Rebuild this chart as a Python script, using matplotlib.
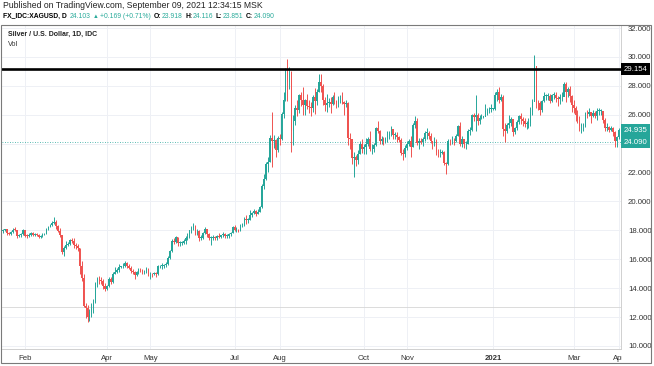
import matplotlib
matplotlib.use('Agg')
import matplotlib.pyplot as plt
import matplotlib.transforms as mtransforms
from matplotlib.patches import Rectangle
import numpy as np

plt.rcParams['font.family'] = ['Liberation Sans', 'DejaVu Sans']

# ---------------- data: daily bars (close, high, low), XAGUSD ----------------
first_open = 17.95
jan_2020 = [(18.02, 18.10, 17.82), (18.08, 18.12, 17.95), (17.80, 18.10, 17.70), (17.75, 17.86, 17.68),
            (17.88, 17.95, 17.65), (18.05, 18.15, 17.85), (18.03, 18.25, 17.95), (17.60, 18.05, 17.50),
            (17.65, 17.75, 17.52), (17.75, 17.85, 17.55), (18.00, 18.10, 17.70)]
feb_2020 = [(17.62, 17.95, 17.55), (17.60, 17.72, 17.45), (17.70, 17.80, 17.55), (17.82, 17.90, 17.62),
            (17.65, 17.88, 17.58), (17.78, 17.82, 17.60), (17.65, 17.80, 17.58), (17.55, 17.72, 17.50),
            (17.62, 17.68, 17.48), (17.72, 17.80, 17.55), (17.76, 17.82, 17.68), (18.08, 18.15, 17.72),
            (18.25, 18.32, 18.05), (18.40, 18.45, 18.20), (18.50, 18.62, 18.30), (18.60, 18.94, 18.45),
            (18.28, 18.70, 18.10), (17.96, 18.35, 17.90), (17.70, 18.15, 17.55), (16.50, 17.70, 16.35)]
mar_2020 = [(16.80, 16.90, 16.25), (17.00, 17.25, 16.70), (17.05, 17.18, 16.90), (17.30, 17.38, 16.98),
            (17.28, 17.50, 17.10), (17.00, 17.48, 16.75), (16.95, 17.15, 16.70), (16.75, 17.05, 16.60),
            (15.50, 16.75, 15.00), (14.70, 15.85, 14.50), (12.80, 14.95, 12.70), (12.60, 13.00, 11.95),
            (11.98, 12.85, 11.64), (12.35, 12.55, 11.70), (12.60, 12.95, 12.00), (13.05, 13.25, 12.25),
            (14.35, 14.45, 13.00), (14.60, 14.75, 14.05), (14.55, 14.85, 14.30), (14.50, 14.80, 14.30),
            (14.15, 14.60, 13.95), (13.95, 14.35, 13.80)]
apr_2020 = [(14.15, 14.25, 13.85), (14.65, 14.78, 14.05), (14.45, 14.75, 14.30), (15.00, 15.15, 14.35),
            (15.10, 15.45, 14.95), (15.25, 15.38, 15.02), (15.48, 15.70, 15.10), (15.50, 15.55, 15.40),
            (15.55, 15.75, 15.40), (15.75, 15.90, 15.45), (15.55, 15.82, 15.40), (15.42, 15.68, 15.30),
            (15.20, 15.55, 15.05), (15.10, 15.30, 14.95), (14.88, 15.20, 14.60), (15.10, 15.20, 14.85),
            (15.30, 15.40, 15.00), (15.28, 15.40, 15.15), (15.12, 15.35, 15.00), (15.18, 15.25, 14.98),
            (15.30, 15.45, 15.05), (14.95, 15.40, 14.85)]
may_2020 = [(15.00, 15.15, 14.65), (14.95, 15.05, 14.80), (15.05, 15.15, 14.88), (14.95, 15.12, 14.80),
            (15.50, 15.58, 14.92), (15.55, 15.62, 15.40), (15.55, 15.75, 15.35), (15.58, 15.65, 15.40),
            (15.65, 15.80, 15.45), (16.12, 16.25, 15.60), (16.55, 16.65, 16.05), (17.25, 17.38, 16.50),
            (17.20, 17.50, 17.05), (17.55, 17.60, 17.15), (17.10, 17.55, 16.95), (17.15, 17.28, 16.90),
            (17.15, 17.25, 17.00), (17.25, 17.40, 17.05), (17.50, 17.62, 17.05), (17.55, 17.80, 17.35),
            (18.00, 18.05, 17.50)]
jun_2020 = [(18.18, 18.30, 17.85), (18.30, 18.50, 18.05), (17.75, 18.35, 17.65), (17.95, 18.10, 17.65),
            (17.50, 18.05, 17.25), (17.50, 17.65, 17.35), (17.80, 17.88, 17.40), (18.10, 18.20, 17.75),
            (17.75, 18.10, 17.55), (17.45, 17.85, 17.30), (17.45, 17.60, 17.00), (17.50, 17.70, 17.30),
            (17.45, 17.60, 17.30), (17.60, 17.65, 17.35), (17.55, 17.80, 17.48), (17.65, 17.70, 17.45),
            (17.75, 17.90, 17.55), (17.60, 17.85, 17.50), (17.60, 17.72, 17.45), (17.72, 17.85, 17.50),
            (17.80, 17.88, 17.60), (18.25, 18.32, 17.80)]
jul_2020 = [(18.00, 18.40, 17.95), (18.02, 18.20, 17.90), (17.98, 18.10, 17.90), (18.35, 18.45, 17.95),
            (18.35, 18.48, 18.20), (18.80, 18.90, 18.30), (18.70, 19.05, 18.45), (18.72, 18.85, 18.50),
            (19.05, 19.40, 18.70), (19.20, 19.30, 18.90), (19.35, 19.45, 19.10), (19.15, 19.40, 19.00),
            (19.30, 19.45, 19.10), (19.60, 19.70, 19.25), (21.10, 21.20, 19.55), (21.55, 21.90, 20.85),
            (22.60, 22.70, 21.45), (22.75, 23.10, 22.05), (24.40, 24.60, 22.70), (24.20, 26.20, 22.40),
            (24.25, 24.60, 23.70), (23.55, 24.35, 23.10), (24.40, 24.55, 23.40)]
aug_2020 = [(24.35, 24.70, 23.90), (26.05, 26.20, 24.25), (27.00, 27.55, 25.80), (28.95, 29.25, 26.95),
            (28.30, 29.86, 26.95), (28.95, 29.30, 27.80), (24.90, 29.05, 23.45), (25.60, 26.00, 23.90),
            (26.50, 26.70, 25.30), (26.35, 27.00, 25.90), (27.35, 27.45, 26.10), (27.00, 27.55, 26.60),
            (26.70, 27.90, 26.00), (27.00, 27.10, 26.00), (26.60, 27.45, 26.40), (26.55, 27.00, 26.10),
            (26.45, 26.90, 25.90), (27.25, 27.40, 26.20), (26.95, 27.85, 26.05), (27.60, 27.80, 26.70),
            (28.25, 28.85, 27.55)]
sep_2020 = [(28.00, 28.80, 27.60), (27.00, 28.10, 26.70), (26.70, 27.25, 26.25), (26.80, 27.45, 26.20),
            (26.85, 27.15, 26.55), (26.75, 27.20, 26.10), (27.20, 27.35, 26.65), (26.95, 27.55, 26.75),
            (26.75, 27.00, 26.50), (27.10, 27.30, 26.55), (27.10, 27.40, 26.80), (26.85, 27.60, 26.75),
            (26.75, 26.95, 26.00), (26.80, 27.00, 26.55), (24.40, 26.90, 23.90), (24.30, 24.75, 23.60),
            (23.00, 24.35, 22.60), (23.10, 23.40, 21.68), (22.90, 23.20, 22.45), (23.25, 23.55, 22.60),
            (24.00, 24.20, 23.25), (23.60, 24.35, 23.35)]
oct_2020 = [(23.75, 23.95, 23.25), (24.00, 24.40, 23.30), (24.30, 24.45, 23.85), (23.60, 24.85, 23.50),
            (23.65, 23.95, 23.30), (23.90, 24.05, 23.45), (25.05, 25.15, 23.85), (24.90, 25.55, 24.75),
            (24.15, 24.95, 23.95), (24.30, 24.50, 23.95), (24.20, 24.45, 23.90), (24.30, 24.45, 24.05),
            (24.50, 24.85, 24.10), (24.65, 24.90, 24.30), (25.00, 25.20, 24.50), (24.60, 25.00, 24.35),
            (24.60, 24.80, 24.35), (24.45, 24.80, 24.10), (24.25, 24.55, 24.10), (23.35, 24.40, 23.20),
            (23.30, 23.60, 22.85), (23.70, 23.90, 23.10)]
nov_2020 = [(24.00, 24.15, 23.55), (24.20, 24.30, 23.85), (23.80, 24.55, 23.10), (25.30, 25.40, 23.80),
            (25.60, 25.90, 25.05), (24.05, 25.75, 23.90), (24.20, 24.40, 23.60), (24.10, 24.40, 23.95),
            (24.30, 24.45, 23.85), (24.75, 24.85, 24.20), (24.75, 25.10, 24.35), (24.55, 24.85, 24.35),
            (24.15, 24.75, 24.05), (24.05, 24.20, 23.60), (24.20, 24.45, 23.85), (23.40, 24.35, 23.20),
            (23.35, 23.60, 23.10), (23.35, 23.65, 23.05), (23.45, 23.55, 23.25), (22.65, 23.50, 22.55),
            (22.60, 22.75, 21.90)]
dec_2020 = [(24.20, 24.35, 22.55), (24.15, 24.35, 23.90), (24.20, 24.50, 24.00), (24.15, 24.40, 23.90),
            (24.55, 24.70, 24.10), (25.25, 25.30, 24.55), (24.00, 25.50, 23.85), (24.35, 24.50, 23.75),
            (23.95, 24.25, 23.70), (24.00, 24.15, 23.60), (24.90, 25.00, 24.00), (24.95, 25.15, 24.60),
            (25.95, 26.05, 24.90), (25.85, 26.15, 25.55), (25.95, 27.40, 24.90), (25.55, 26.10, 25.30),
            (25.80, 25.95, 25.35), (25.85, 26.05, 25.70), (25.85, 25.90, 25.80), (26.25, 26.75, 26.00),
            (26.25, 26.50, 25.95), (26.40, 26.55, 26.10), (26.40, 26.75, 26.20)]
jan_2021 = [(26.40, 26.45, 26.35), (27.35, 27.60, 26.30), (27.60, 27.75, 26.95), (27.05, 27.90, 26.80),
            (27.20, 27.45, 26.95), (25.00, 27.35, 24.55), (24.90, 25.40, 24.10), (25.30, 25.45, 24.75),
            (25.45, 25.95, 25.05), (25.70, 25.85, 25.20), (24.80, 25.70, 24.50), (25.05, 25.15, 24.70),
            (25.50, 25.65, 24.95), (25.90, 26.00, 25.35), (25.70, 26.15, 25.35), (25.55, 25.85, 25.20),
            (25.35, 25.75, 25.15), (25.35, 25.55, 25.00), (25.40, 25.75, 25.05), (26.20, 26.55, 25.20),
            (26.90, 27.10, 25.95)]
feb_2021 = [(29.40, 30.10, 26.95), (26.90, 29.20, 26.45), (26.80, 27.05, 26.35), (26.30, 26.95, 25.95),
            (26.95, 27.05, 26.20), (27.30, 27.55, 26.85), (27.30, 27.45, 27.00), (27.30, 27.50, 27.00),
            (26.95, 27.45, 26.80), (27.35, 27.45, 26.85), (27.40, 27.60, 27.10), (27.15, 27.55, 26.85),
            (27.10, 27.30, 26.60), (27.20, 27.45, 26.75), (27.25, 27.55, 26.95), (28.10, 28.30, 27.30),
            (27.55, 28.30, 26.90), (27.75, 27.90, 27.20), (27.30, 28.00, 26.90), (26.65, 27.35, 26.20)]
mar_2021 = [(26.45, 27.00, 26.10), (26.00, 26.60, 25.55), (25.65, 26.35, 25.45), (25.20, 25.90, 24.90),
            (25.20, 25.40, 24.75), (25.25, 25.45, 24.90), (26.10, 26.20, 25.15), (26.05, 26.30, 25.80),
            (26.20, 26.45, 25.90), (25.90, 26.20, 25.40), (26.15, 26.30, 25.85), (25.90, 26.25, 25.75),
            (26.25, 26.50, 25.65), (26.25, 26.45, 25.95), (26.25, 26.40, 25.95), (25.65, 26.25, 25.45),
            (25.05, 25.75, 24.85), (25.15, 25.45, 24.90), (24.95, 25.20, 24.80), (25.10, 25.20, 24.85),
            (24.80, 25.15, 24.55), (24.20, 24.90, 23.80), (24.45, 24.55, 23.80)]
apr_2021 = [(24.93, 25.05, 24.30)]

months = [jan_2020, feb_2020, mar_2020, apr_2020, may_2020, jun_2020, jul_2020, aug_2020,
          sep_2020, oct_2020, nov_2020, dec_2020, jan_2021, feb_2021, mar_2021, apr_2021]
# which months get a label on the time axis
time_labels = ['Feb', 'Apr', 'May', 'Jul', 'Aug', 'Oct', 'Nov', '2021', 'Mar', 'Apr']
time_label_month = [1, 3, 4, 6, 7, 9, 10, 12, 14, 15]
price_ticks = [10, 12, 14, 16, 18, 20, 22, 24, 26, 28, 30, 32]
hidden_price_labels = [24]  # covered by the last-price labels
resistance = 29.154
last_bar_close = 24.935
current_price = 24.090
hline_low = 12.7

UP = '#26a69a'
DN = '#ef5350'

# ---------------- figure ----------------
W, H = 654, 366
fig = plt.figure(figsize=(W / 100, H / 100), dpi=100)
fig.patch.set_facecolor('white')


def fx(px):
    return px / W


def fy(py):
    return 1 - py / H


L, R, T, B = 1.5, 621, 25, 349
ax = fig.add_axes([fx(L), fy(B), fx(R - L), (B - T) / H])

bars = [b for m in months for b in m]
closes = np.array([b[0] for b in bars])
highs = np.array([b[1] for b in bars])
lows = np.array([b[2] for b in bars])
opens = np.concatenate([[first_open], closes[:-1]])
idx = np.arange(len(bars))
up = closes >= opens
cols = np.where(up, UP, DN)

# grid
starts = np.cumsum([0] + [len(m) for m in months])[:-1]
xt = [starts[m] for m in time_label_month]
for p in price_ticks:
    ax.axhline(p, color='#eef0f5', lw=0.7, zorder=0)
for x in xt:
    ax.axvline(x, color='#eef0f5', lw=0.7, zorder=0)

ax.axhline(hline_low, color='#d6d6d6', lw=0.6, zorder=1)
ax.axhline(current_price, color=UP, lw=0.6, ls=(0, (1, 2)), zorder=1)

ax.vlines(idx, lows, highs, colors=cols, lw=0.7, zorder=2)
body = np.maximum(np.abs(closes - opens), 0.06)
ax.bar(idx, body, bottom=np.minimum(opens, closes), width=0.8, color=cols, lw=0, zorder=3)

ax.axhline(resistance, color='black', lw=1.9, zorder=4)

ax.set_xlim(-0.9, 315.2)
ax.set_ylim(9.79, 32.21)

ax.yaxis.tick_right()
ax.set_yticks(price_ticks)
ax.set_yticklabels(['' if p in hidden_price_labels else f'{p:.3f}' for p in price_ticks])
ax.set_xticks(xt)
ax.set_xticklabels(time_labels)
for lab in ax.get_xticklabels():
    if lab.get_text() == '2021':
        lab.set_fontweight('bold')
ax.tick_params(axis='both', length=0, labelsize=5.6, colors='#333333')
ax.tick_params(axis='y', pad=5)
ax.tick_params(axis='x', pad=4)

for s in ['left', 'top']:
    ax.spines[s].set_visible(False)
for s in ['right', 'bottom']:
    ax.spines[s].set_color('#d0d0d0')
    ax.spines[s].set_linewidth(0.7)

# price labels on the scale
tr = mtransforms.blended_transform_factory(ax.transAxes, ax.transData)
ax.text(1.004, resistance, '29.154', transform=tr, va='center', ha='left', color='white',
        fontsize=5.6, clip_on=False, zorder=6,
        bbox=dict(boxstyle='square,pad=0.32', fc='black', ec='none'))
for v in [last_bar_close, current_price]:
    ax.text(1.004, v, f'{v:.3f}', transform=tr, va='center', ha='left', color='white',
            fontsize=5.6, clip_on=False, zorder=6,
            bbox=dict(boxstyle='square,pad=0.32', fc=UP, ec='none'))

# outer frame + corner mask
fig.add_artist(Rectangle((fx(R + 0.5), fy(362.5)), fx(650 - R - 0.5), (362.5 - B - 0.5) / H,
                         transform=fig.transFigure, fc='white', ec='none', zorder=20))
fig.add_artist(Rectangle((fx(1), fy(363)), fx(650), (363 - 25) / H, transform=fig.transFigure,
                         fill=False, ec='#7a7a7a', lw=0.8, zorder=21))

# header texts
fig.text(fx(3), fy(5.5), 'Published on TradingView.com, September 09, 2021 12:34:15 MSK',
         fontsize=6.2, color='#222222', va='center', ha='left')

TEAL = '#2bab9b'
pieces = [('FX_IDC:XAGUSD, D', 'black', 'bold', 3.0), ('24.103', TEAL, 'normal', 2.0),
          ('\u25B2', TEAL, 'normal', 2.0), ('+0.169 (+0.71%)', TEAL, 'normal', 2.5),
          ('O:', 'black', 'bold', 0.5), ('23.918', TEAL, 'normal', 2.5),
          ('H:', 'black', 'bold', 0.5), ('24.116', TEAL, 'normal', 2.5),
          ('L:', 'black', 'bold', 0.5), ('23.851', TEAL, 'normal', 2.5),
          ('C:', 'black', 'bold', 0.5), ('24.090', TEAL, 'normal', 0)]
fig.canvas.draw()
rend = fig.canvas.get_renderer()
xpos = 3.0
for txt, c, wgt, gap in pieces:
    size = 4.2 if txt == '\u25B2' else 4.9
    t = fig.text(fx(xpos), fy(16.5), txt, color=c, fontweight=wgt, fontsize=size,
                 va='center', ha='left')
    bb = t.get_window_extent(renderer=rend)
    xpos += bb.width + gap

fig.text(fx(8), fy(34), 'Silver / U.S. Dollar, 1D, IDC', fontsize=5.0, fontweight='bold',
         color='#222222', va='center', ha='left', zorder=25)
fig.text(fx(8), fy(44), 'Vol', fontsize=5.2, color='#333333', va='center', ha='left', zorder=25)

fig.savefig('out.png', dpi=100, facecolor='white')
